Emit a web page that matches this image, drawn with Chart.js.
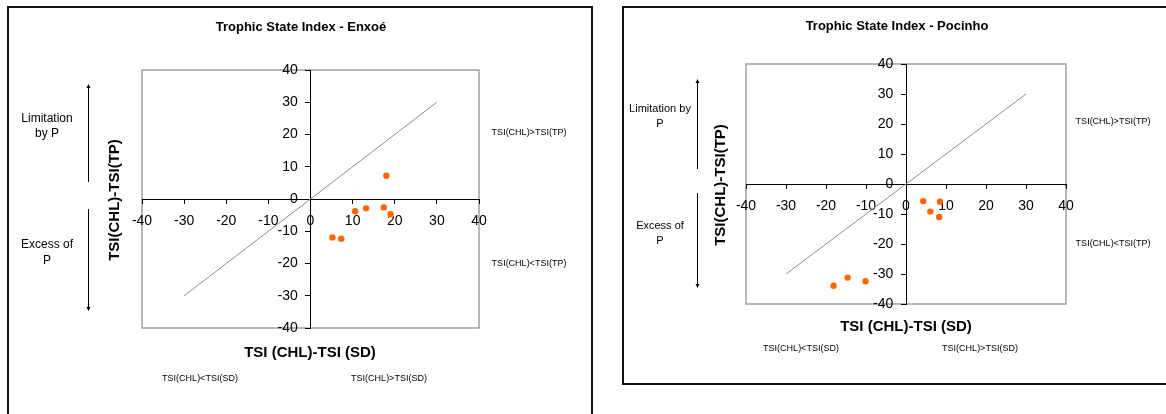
<!DOCTYPE html>
<html>
<head>
<meta charset="utf-8">
<script src="https://cdn.jsdelivr.net/npm/chart.js@4"></script>
<style>
  body { margin: 0; background: #fff; width: 1166px; height: 414px; overflow: hidden; position: relative; }
  canvas { position: absolute; top: 0; }
  .frame { position: absolute; border: 2px solid #111; box-sizing: border-box; }
</style>
</head>
<body>
<div class="frame" style="left:7px; top:6px; width:586px; height:430px;"></div>
<div class="frame" style="left:622px; top:6px; width:560px; height:379px;"></div>
<canvas id="enxoe" width="600" height="414" style="left:0"></canvas>
<canvas id="pocinho" width="566" height="414" style="left:600px"></canvas>
<script>
// TSI deviations: x = TSI(CHL)-TSI(SD), y = TSI(CHL)-TSI(TP)
const enxoeX = [18.0, 10.6, 13.2, 17.4, 19.0, 5.2, 7.3];
const enxoeY = [7.2, -3.8, -2.9, -2.6, -4.7, -11.9, -12.3];
const pocinhoX = [4.3, 8.5, 6.1, 8.3, -18.1, -14.6, -10.1];
const pocinhoY = [-5.7, -5.9, -9.2, -11.0, -33.9, -31.2, -32.4];
const refLineX = [-30, 30];
const refLineY = [-30, 30];
const axisMin = -40, axisMax = 40, axisStep = 10;

const FONT = '"Liberation Sans", Arial, sans-serif';
const ORANGE = '#ff6600';

const toPoints = (xs, ys) => xs.map((x, i) => ({ x, y: ys[i] }));

// box around the plot area + annotation texts and arrows
const decorPlugin = {
    id: 'decor',
    beforeDraw(chart) {
        const { ctx, chartArea: a } = chart;
        ctx.save();
        ctx.strokeStyle = '#a0a0a0';
        ctx.lineWidth = 1.5;
        ctx.strokeRect(a.left, a.top, a.right - a.left, a.bottom - a.top);
        ctx.restore();
    },
    afterDraw(chart, args, o) {
        const ctx = chart.ctx;
        ctx.save();
        ctx.fillStyle = '#000';
        ctx.textAlign = 'center';
        ctx.textBaseline = 'middle';
        (o.texts || []).forEach(t => {
            ctx.font = `${t.bold ? 'bold ' : ''}${t.size}px ${FONT}`;
            if (t.rotate) {
                ctx.save();
                ctx.translate(t.x, t.y);
                ctx.rotate(-Math.PI / 2);
                ctx.fillText(t.text, 0, 0);
                ctx.restore();
            } else {
                ctx.fillText(t.text, t.x, t.y);
            }
        });
        ctx.strokeStyle = '#000';
        ctx.lineWidth = 1;
        (o.arrows || []).forEach(ar => {
            ctx.beginPath();
            ctx.moveTo(ar.x + 0.5, ar.y1);
            ctx.lineTo(ar.x + 0.5, ar.y2);
            ctx.stroke();
            const dir = ar.y2 > ar.y1 ? 1 : -1;
            ctx.beginPath();
            ctx.moveTo(ar.x + 0.5, ar.y2 + dir * 2);
            ctx.lineTo(ar.x - 1.5, ar.y2 - dir * 2);
            ctx.lineTo(ar.x + 2.5, ar.y2 - dir * 2);
            ctx.closePath();
            ctx.fill();
        });
        ctx.restore();
    }
};

// axes cross at 0, which is the middle of the -40..40 range
function scaleOpts(tickLen, pad, labelFmt) {
    return {
        type: 'linear',
        position: 'center',
        min: axisMin,
        max: axisMax,
        border: { display: true, color: '#000', width: 1 },
        grid: { drawOnChartArea: false, drawTicks: true, tickLength: tickLen, color: '#000' },
        ticks: { stepSize: axisStep, color: '#000', padding: pad, maxRotation: 0, font: { family: FONT, size: 14 }, callback: labelFmt }
    };
}

function renderTsiChart(canvasId, xs, ys, padding, decor) {
    const canvas = document.getElementById(canvasId);
    return new Chart(canvas, {
        type: 'scatter',
        data: {
            datasets: [
                {
                    type: 'line',
                    data: toPoints(refLineX, refLineY),
                    borderColor: '#8a8a8a',
                    borderWidth: 1,
                    pointRadius: 0,
                    fill: false
                },
                {
                    data: toPoints(xs, ys),
                    backgroundColor: ORANGE,
                    borderWidth: 0,
                    pointRadius: 3.2
                }
            ]
        },
        options: {
            responsive: false,
            animation: false,
            devicePixelRatio: 1,
            layout: { padding },
            plugins: { legend: { display: false }, tooltip: { enabled: false }, decor },
            scales: {
                x: scaleOpts(4, 10, v => String(v)),
                // y labels sit right-aligned against the tick marks; pad them off the axis
                y: scaleOpts(5, 0, v => v + '  ')
            }
        },
        plugins: [decorPlugin]
    });
}

renderTsiChart('enxoe', enxoeX, enxoeY,
    { left: 142, right: 121, top: 70, bottom: 86 },
    {
        texts: [
            { text: 'Trophic State Index - Enxoé', x: 301, y: 27, size: 13, bold: true },
            { text: 'TSI (CHL)-TSI (SD)', x: 310, y: 353, size: 15, bold: true },
            { text: 'TSI(CHL)-TSI(TP)', x: 115, y: 200, size: 15, bold: true, rotate: true },
            { text: 'Limitation', x: 47, y: 119, size: 12 },
            { text: 'by P', x: 47, y: 134, size: 12 },
            { text: 'Excess of', x: 47, y: 245, size: 12 },
            { text: 'P', x: 47, y: 261, size: 12 },
            { text: 'TSI(CHL)>TSI(TP)', x: 529, y: 133, size: 9 },
            { text: 'TSI(CHL)<TSI(TP)', x: 529, y: 264, size: 9 },
            { text: 'TSI(CHL)<TSI(SD)', x: 200, y: 379, size: 9 },
            { text: 'TSI(CHL)>TSI(SD)', x: 389, y: 379, size: 9 }
        ],
        arrows: [
            { x: 88, y1: 182, y2: 86 },
            { x: 88, y1: 209, y2: 309 }
        ]
    });

renderTsiChart('pocinho', pocinhoX, pocinhoY,
    { left: 146, right: 100, top: 64, bottom: 110 },
    {
        texts: [
            { text: 'Trophic State Index - Pocinho', x: 297, y: 26, size: 13, bold: true },
            { text: 'TSI (CHL)-TSI (SD)', x: 306, y: 327, size: 15, bold: true },
            { text: 'TSI(CHL)-TSI(TP)', x: 121, y: 185, size: 15, bold: true, rotate: true },
            { text: 'Limitation by', x: 60, y: 109, size: 11 },
            { text: 'P', x: 60, y: 124, size: 11 },
            { text: 'Excess of', x: 60, y: 226, size: 11 },
            { text: 'P', x: 60, y: 241, size: 11 },
            { text: 'TSI(CHL)>TSI(TP)', x: 513, y: 122, size: 9 },
            { text: 'TSI(CHL)<TSI(TP)', x: 513, y: 244, size: 9 },
            { text: 'TSI(CHL)<TSI(SD)', x: 201, y: 349, size: 9 },
            { text: 'TSI(CHL)>TSI(SD)', x: 380, y: 349, size: 9 }
        ],
        arrows: [
            { x: 97, y1: 169, y2: 81 },
            { x: 97, y1: 193, y2: 286 }
        ]
    });
</script>
</body>
</html>
